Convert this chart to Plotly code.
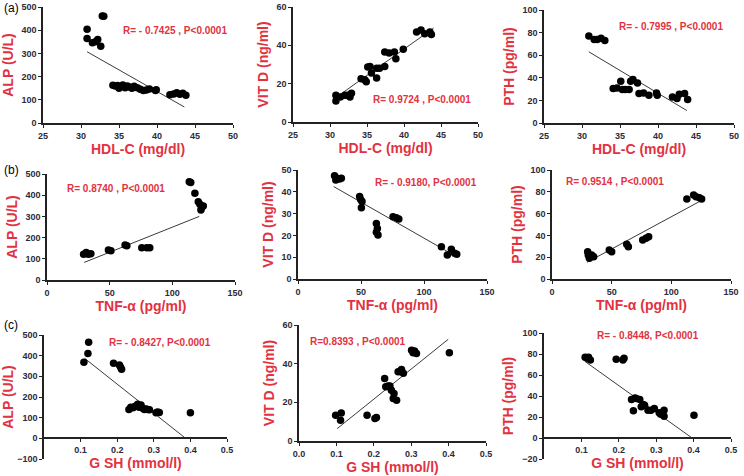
import plotly.graph_objects as go

W, H = 744, 476
RED = "#e2323f"
TICKC = "#2b2b3a"
FONT = "Liberation Sans"

# ---------------- data ----------------
# Row (a): HDL-C (mg/dl)
a1_x = [30.8, 30.8, 31.5, 31.9, 32.2, 32.6, 32.8, 33.0, 34.2, 34.5, 34.8, 35.0, 35.3, 35.5, 35.8, 36.1, 36.4, 36.7, 37.0, 37.4, 37.8, 38.2, 38.6, 39.0, 39.8, 39.9, 41.7, 42.2, 42.6, 43.0, 43.4, 43.8]
a1_y = [404, 364, 346, 350, 360, 331, 461, 460, 163, 160, 162, 150, 158, 164, 152, 160, 155, 150, 158, 152, 145, 140, 142, 147, 140, 143, 122, 125, 130, 124, 128, 120]
a1_fit_x = [30.8, 43.6]
a1_fit_y = [307, 69]

a2_x = [30.8, 30.8, 31.4, 32.0, 32.4, 32.7, 32.9, 34.2, 34.7, 34.9, 35.1, 35.4, 35.6, 36.3, 36.3, 36.7, 37.4, 37.4, 38.0, 38.7, 38.9, 39.9, 41.7, 42.3, 42.8, 43.5, 43.7]
a2_y = [11, 14, 13, 14, 14, 13, 15, 22.6, 22, 21, 28.7, 29, 25.6, 28, 23, 28, 29, 36.5, 36, 36.5, 33, 38, 47, 48, 46, 47, 45.7]
a2_fit_x = [30.7, 44.0]
a2_fit_y = [12.5, 49]

a3_x = [30.9, 31.6, 32.0, 32.5, 33.0, 34.1, 34.6, 35.1, 35.3, 35.7, 36.2, 36.4, 36.7, 37.3, 37.5, 38.1, 38.8, 39.8, 39.9, 41.9, 42.5, 42.8, 43.5, 43.9]
a3_y = [77, 74, 74, 75, 73, 30.5, 31, 37, 29.6, 29.6, 29.6, 37, 38.5, 35.5, 26, 26.6, 24.5, 26.6, 24.5, 23, 21.6, 25.4, 26, 20.7]
a3_fit_x = [30.9, 43.8]
a3_fit_y = [63, 11]

# Row (b): TNF-alpha (pg/ml)
b1_x = [29.2, 31.3, 33.0, 35.0, 49.0, 51.0, 62.3, 63.7, 75.6, 79.6, 82.0, 113.5, 114.7, 118.0, 120.7, 122.0, 123.3, 122.8, 124.7]
b1_y = [121, 130, 121, 124, 141, 138, 165, 162, 152, 152, 152, 464, 460, 409, 369, 357, 341, 330, 349]
b1_fit_x = [29.7, 121.5]
b1_fit_y = [83, 300]

b2_x = [29.0, 31.0, 33.0, 30.0, 34.4, 48.9, 49.7, 50.8, 50.3, 62.2, 63.0, 62.2, 63.5, 75.4, 78.0, 80.0, 113.8, 118.5, 121.7, 124.3, 126.0]
b2_y = [47.4, 46.2, 45.9, 45.4, 46.2, 37.8, 36.5, 35.5, 32.7, 25.5, 23.2, 21.4, 20.2, 28.6, 28.1, 27.5, 14.8, 11.0, 13.6, 11.8, 11.3]
b2_fit_x = [28.3, 123.5]
b2_fit_y = [42.4, 11.0]

b3_x = [29.9, 30.4, 31.3, 33.2, 34.9, 48.0, 50.0, 62.6, 64.0, 76.0, 78.8, 81.0, 113.0, 118.7, 120.7, 123.5, 125.4]
b3_y = [25, 22, 19, 22, 20.5, 26.6, 25, 31.8, 29.7, 35.8, 37.3, 38.8, 73.4, 77, 75.5, 74.6, 73.4]
b3_fit_x = [29.3, 126.0]
b3_fit_y = [15.3, 72.5]

# Row (c): GSH (mmol/l)
c1_x = [0.109, 0.120, 0.122, 0.190, 0.206, 0.212, 0.209, 0.232, 0.237, 0.243, 0.247, 0.252, 0.256, 0.260, 0.265, 0.270, 0.274, 0.279, 0.283, 0.288, 0.306, 0.310, 0.315, 0.400]
c1_y = [368, 411, 465, 363, 355, 334, 345, 140, 150, 148, 153, 158, 165, 150, 161, 145, 140, 142, 140, 138, 124, 128, 125, 124]
c1_fit_x = [0.111, 0.387]
c1_fit_y = [387, 0]

c2_x = [0.098, 0.111, 0.113, 0.182, 0.203, 0.207, 0.229, 0.232, 0.238, 0.243, 0.247, 0.252, 0.254, 0.261, 0.265, 0.270, 0.274, 0.279, 0.301, 0.305, 0.309, 0.314, 0.402]
c2_y = [13.3, 10.7, 14.5, 13.3, 11.6, 12.1, 32.3, 28.0, 28.5, 28.4, 26.3, 22.0, 24.6, 21.1, 35.8, 36.0, 37.0, 35.0, 47.0, 45.7, 46.5, 45.3, 45.7]
c2_fit_x = [0.102, 0.399]
c2_fit_y = [6.4, 52.6]

c3_x = [0.110, 0.115, 0.119, 0.124, 0.193, 0.211, 0.214, 0.234, 0.239, 0.243, 0.247, 0.256, 0.260, 0.265, 0.269, 0.278, 0.286, 0.295, 0.308, 0.312, 0.321, 0.321, 0.401]
c3_y = [77, 76, 77, 74.4, 75, 74.4, 76, 36.7, 25.9, 38.0, 37.7, 36.7, 29.7, 32.0, 31.3, 26.5, 26.5, 28.0, 24.0, 22.7, 20.8, 26.5, 21.7]
c3_fit_x = [0.110, 0.396]
c3_fit_y = [72.8, 0]

# ---------------- panels ----------------
panels = [
    (a1_x, a1_y, a1_fit_x, a1_fit_y, "HDL-C (mg/dl)", "ALP (U/L)", [25, 50], [25, 30, 35, 40, 45, 50], None, [0, 500], [0, 100, 200, 300, 400, 500], "R= - 0.7425 , P<0.0001"),
    (a2_x, a2_y, a2_fit_x, a2_fit_y, "HDL-C (mg/dl)", "VIT D (ng/ml)", [25, 50], [25, 30, 35, 40, 45, 50], None, [0, 60], [0, 20, 40, 60], "R= 0.9724 , P<0.0001"),
    (a3_x, a3_y, a3_fit_x, a3_fit_y, "HDL-C (mg/dl)", "PTH (pg/ml)", [25, 50], [25, 30, 35, 40, 45, 50], None, [0, 100], [0, 20, 40, 60, 80, 100], "R= - 0.7995 , P<0.0001"),
    (b1_x, b1_y, b1_fit_x, b1_fit_y, "TNF-α (pg/ml)", "ALP (U/L)", [0, 150], [0, 50, 100, 150], None, [0, 500], [0, 100, 200, 300, 400, 500], "R= 0.8740 , P<0.0001"),
    (b2_x, b2_y, b2_fit_x, b2_fit_y, "TNF-α (pg/ml)", "VIT D (ng/ml)", [0, 150], [0, 50, 100, 150], None, [0, 50], [0, 10, 20, 30, 40, 50], "R= - 0.9180, P<0.0001"),
    (b3_x, b3_y, b3_fit_x, b3_fit_y, "TNF-α (pg/ml)", "PTH (pg/ml)", [0, 150], [0, 50, 100, 150], None, [0, 100], [0, 20, 40, 60, 80, 100], "R= 0.9514 , P<0.0001"),
    (c1_x, c1_y, c1_fit_x, c1_fit_y, "G SH (mmol/l)", "ALP (U/L)", [0, 0.5], [0.1, 0.2, 0.3, 0.4, 0.5], ["0.1", "0.2", "0.3", "0.4", "0.5"], [-100, 500], [-100, 0, 100, 200, 300, 400, 500], "R= - 0.8427, P<0.0001"),
    (c2_x, c2_y, c2_fit_x, c2_fit_y, "G SH (mmol/l)", "VIT D (ng/ml)", [0, 0.5], [0.0, 0.1, 0.2, 0.3, 0.4, 0.5], ["0.0", "0.1", "0.2", "0.3", "0.4", "0.5"], [0, 60], [0, 20, 40, 60], "R=0.8393 , P<0.0001"),
    (c3_x, c3_y, c3_fit_x, c3_fit_y, "G SH (mmol/l)", "PTH (pg/ml)", [0, 0.5], [0.1, 0.2, 0.3, 0.4, 0.5], ["0.1", "0.2", "0.3", "0.4", "0.5"], [-20, 100], [-20, 0, 20, 40, 60, 80, 100], "R= - 0.8448, P<0.0001"),
]

boxes = [
    (43, 233, 7, 123), (293, 478, 7, 122), (544, 734, 10, 123),
    (47, 235, 174, 280), (298, 487, 170, 279), (552, 731, 170, 279),
    (44, 227, 335, 459), (299, 486, 325, 441), (544, 731, 333, 459),
]
rpos = [(175, 31), (422, 99), (671, 26), (116, 189), (426, 182), (615, 181),
        (160, 342), (358, 341), (648, 335)]

fig = go.Figure()
layout = {}
annotations = []

for i, (p, b, rp) in enumerate(zip(panels, boxes, rpos)):
    xs, ys, fx, fy, xt, yt, xr, xtv, xtt, yr, ytv, rtxt = p
    l, r, t, bt = b
    n = i + 1
    xa = "x" if n == 1 else f"x{n}"
    ya = "y" if n == 1 else f"y{n}"
    xkey = "xaxis" if n == 1 else f"xaxis{n}"
    ykey = "yaxis" if n == 1 else f"yaxis{n}"
    dx = [l / W, r / W]
    dy = [1 - bt / H, 1 - t / H]

    fig.add_trace(go.Scatter(x=fx, y=fy, mode="lines", xaxis=xa, yaxis=ya,
                             line=dict(color="#3a3a3a", width=1), showlegend=False,
                             hoverinfo="skip"))
    fig.add_trace(go.Scatter(x=xs, y=ys, mode="markers", xaxis=xa, yaxis=ya,
                             marker=dict(color="black", size=7.5), showlegend=False))

    xaxis = dict(domain=dx, range=xr, tickvals=xtv, showgrid=False, zeroline=False,
                 showline=True, linecolor="#222", linewidth=1.5, ticks="outside",
                 ticklen=3, tickwidth=1.2, tickcolor="#222", automargin=False,
                 tickfont=dict(family=FONT, size=9, color=TICKC, weight="bold"),
                 title=dict(text=xt, font=dict(family=FONT, size=14, color=RED, weight="bold"),
                            standoff=2),
                 anchor=ya, fixedrange=True)
    if xtt is not None:
        xaxis["ticktext"] = xtt
    if yr[0] < 0:
        frac = (0 - yr[0]) / (yr[1] - yr[0])
        xaxis["anchor"] = "free"
        xaxis["position"] = dy[0] + frac * (dy[1] - dy[0])
    yaxis = dict(domain=dy, range=yr, tickvals=ytv, showgrid=False, zeroline=False,
                 showline=True, linecolor="#222", linewidth=1.5, ticks="outside",
                 ticklen=3, tickwidth=1.2, tickcolor="#222", automargin=False,
                 tickfont=dict(family=FONT, size=9, color=TICKC, weight="bold"),
                 title=dict(text=yt, font=dict(family=FONT, size=14, color=RED, weight="bold"),
                            standoff=5),
                 anchor=xa, fixedrange=True)
    layout[xkey] = xaxis
    layout[ykey] = yaxis

    annotations.append(dict(text=rtxt, x=rp[0] / W, y=1 - rp[1] / H, xref="paper", yref="paper",
                            showarrow=False, xanchor="center", yanchor="middle",
                            font=dict(family=FONT, size=10, color=RED, weight="bold")))

for lab, py in [("(a)", 8), ("(b)", 170), ("(c)", 325)]:
    annotations.append(dict(text=lab, x=2 / W, y=1 - py / H, xref="paper", yref="paper",
                            showarrow=False, xanchor="left", yanchor="middle",
                            font=dict(family=FONT, size=12, color="black")))

fig.update_layout(width=W, height=H, margin=dict(l=0, r=0, t=0, b=0),
                  template="none",
                  paper_bgcolor="white", plot_bgcolor="white",
                  annotations=annotations, **layout)

fig.write_html("out.html", config={"displayModeBar": False},
               post_script="document.body.style.margin='0px';document.body.style.overflow='hidden';")
